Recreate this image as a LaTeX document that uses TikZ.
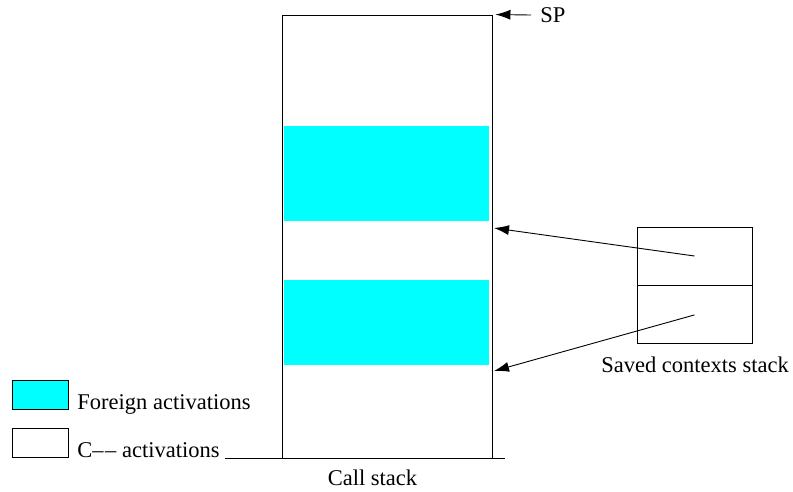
\documentclass[tikz,border=0pt]{standalone}
\usepackage{fontspec}
\setmainfont{Liberation Serif}
\usetikzlibrary{arrows.meta,positioning}
\definecolor{foreigncyan}{RGB}{0,255,255}
\tikzset{
  >={Latex[length=15pt,width=10pt]},
  frame/.style={draw,inner sep=0pt},
  foreign/.style={fill=foreigncyan,inner sep=0pt},
  lbl/.style={font=\fontsize{22.5}{27}\selectfont,inner sep=0pt},
}
\begin{document}
\begin{tikzpicture}[x=1pt,y=-1pt,line width=0.9pt]
\useasboundingbox (0,0) rectangle (793,491);
% call stack
\node[frame,minimum width=210pt,minimum height=443pt] (stack) at (387,236.5) {};
\node[foreign,minimum width=205pt,minimum height=95pt] (fa) at (386.5,173.5) {};
\node[foreign,minimum width=205pt,minimum height=85pt] (fb) at (386.5,322.5) {};
\draw ([xshift=-57pt]stack.south west) -- ([xshift=13pt]stack.south east);
\node[lbl,anchor=base] (callstack) at (372.5,485) {Call stack};
% stack pointer
\node[lbl,anchor=west] (sp) at (540,15) {SP};
\coordinate (sptail) at (531,15);
\draw[->] (sptail) -- ([xshift=3pt]stack.north east);
% saved contexts
\node[frame,minimum width=115pt,minimum height=58pt] (ctxtop) at (694.5,256) {};
\node[frame,minimum width=115pt,minimum height=58pt,below=0pt of ctxtop] (ctxbot) {};
\node[lbl,anchor=base] (saved) at (695,372) {Saved contexts stack};
\coordinate (ra) at (494,228);
\coordinate (rb) at (494,371);
\draw[->] (ctxtop.center) -- (ra);
\draw[->] (ctxbot.center) -- (rb);
% legend
\node[frame,fill=foreigncyan,minimum width=56pt,minimum height=29pt] (keyf) at (40,395) {};
\node[frame,minimum width=56pt,minimum height=29pt] (keyc) at (40,443) {};
\node[lbl,anchor=base west] (keyflbl) at (77,409) {Foreign activations};
\node[lbl,anchor=base west] (keyclbl) at (77,457) {C\textendash\kern1.5pt\textendash{} activations};
\end{tikzpicture}
\end{document}
